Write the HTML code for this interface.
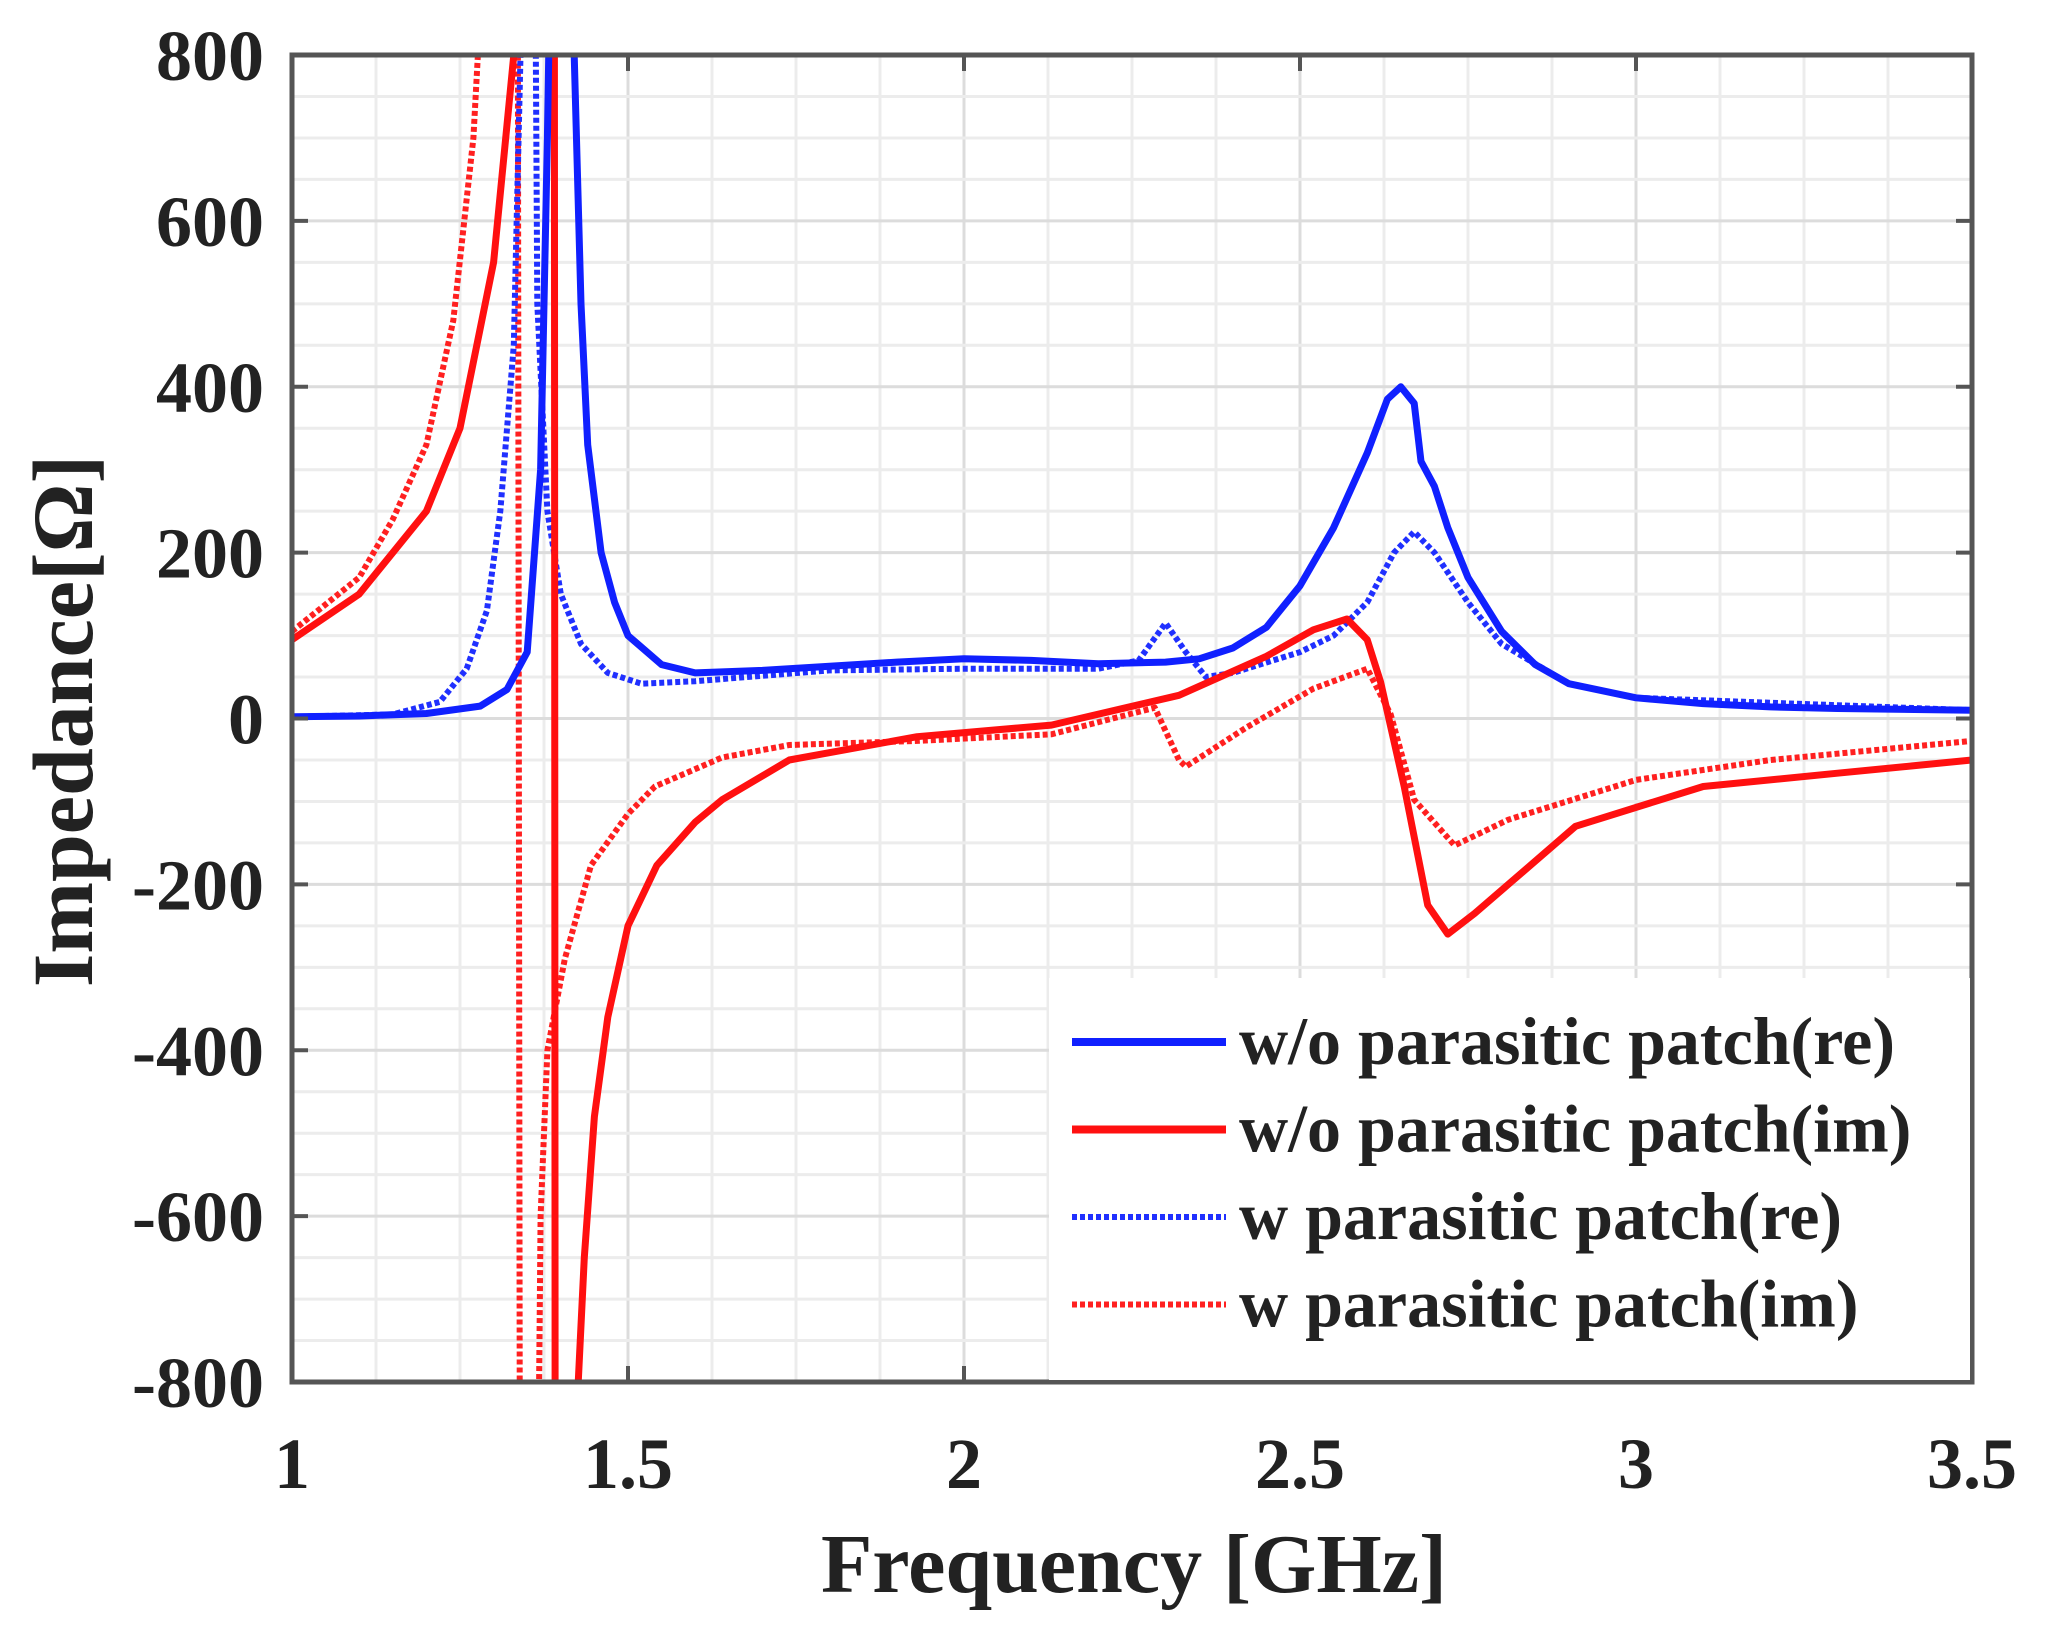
<!DOCTYPE html>
<html><head><meta charset="utf-8"><style>
html,body{margin:0;padding:0;background:#fff;overflow:hidden;width:2056px;height:1636px;}
svg{display:block;font-family:"Liberation Serif",serif;font-weight:bold;}
</style></head><body>
<svg id="chart" width="2056" height="1636" viewBox="0 0 2056 1636" xmlns="http://www.w3.org/2000/svg">
<defs><clipPath id="clip"><rect x="292" y="55" width="1680" height="1327"/></clipPath></defs>
<g id="grid"></g>
<g id="series" clip-path="url(#clip)"></g>
<g id="axes"></g>
<text x="1134" y="1592" font-size="84" text-anchor="middle" fill="#222">Frequency [GHz]</text>
<text transform="translate(92,721) rotate(-90)" font-size="86" text-anchor="middle" fill="#222">Impedance[Ω]</text>
<g id="legend"></g>
</svg>
<script>
const xTicks=[1,1.5,2,2.5,3,3.5];
const xTickLabels=["1","1.5","2","2.5","3","3.5"];
const yTicks=[-800,-600,-400,-200,0,200,400,600,800];
const yTickLabels=["-800","-600","-400","-200","0","200","400","600","800"];
const seriesNames=["w/o parasitic patch(re)","w/o parasitic patch(im)","w parasitic patch(re)","w parasitic patch(im)"];
const fBlueSolid=[1.0,1.1,1.2,1.28,1.32,1.35,1.37,1.38,1.39,1.41,1.42,1.43,1.44,1.46,1.48,1.5,1.55,1.6,1.7,1.8,1.9,2.0,2.1,2.2,2.3,2.35,2.4,2.45,2.5,2.55,2.6,2.63,2.65,2.67,2.68,2.7,2.72,2.75,2.8,2.85,2.9,3.0,3.1,3.2,3.3,3.5];
const zBlueSolid=[2,3,6,15,35,80,300,700,1200,1200,800,500,330,200,140,100,65,55,58,63,68,72,70,66,68,72,85,110,160,230,320,385,400,380,310,280,230,170,105,65,42,25,18,14,12,10];
const fRedSolid=[1.0,1.1,1.2,1.25,1.3,1.33,1.36,1.39,1.392,1.41,1.42,1.435,1.45,1.47,1.5,1.543,1.6,1.64,1.74,1.93,2.13,2.32,2.45,2.52,2.57,2.6,2.62,2.655,2.69,2.72,2.76,2.81,2.91,3.1,3.3,3.5];
const zRedSolid=[95,150,250,350,550,800,1500,1500,-1500,-1500,-900,-650,-480,-360,-250,-177,-125,-98,-50,-22,-8,28,75,107,120,95,44,-82,-225,-260,-235,-200,-130,-82,-66,-50];
const fBlueDot=[1.0,1.15,1.22,1.26,1.29,1.31,1.33,1.34,1.35,1.36,1.365,1.38,1.4,1.43,1.47,1.52,1.6,1.8,2.0,2.2,2.26,2.3,2.33,2.36,2.4,2.5,2.55,2.6,2.64,2.67,2.7,2.75,2.8,2.9,3.0,3.5];
const zBlueDot=[2,5,20,60,130,250,450,800,1200,1200,500,250,150,90,55,42,45,58,60,60,70,115,80,50,55,80,100,140,200,225,200,140,90,42,25,10];
const fRedDot=[1.0,1.1,1.15,1.2,1.24,1.27,1.29,1.31,1.335,1.34,1.36,1.37,1.38,1.406,1.445,1.5,1.54,1.64,1.74,1.93,2.13,2.245,2.284,2.32,2.33,2.42,2.52,2.6,2.635,2.67,2.73,2.81,3.0,3.2,3.5];
const zRedDot=[105,170,240,330,480,700,1000,1500,1500,-1500,-1500,-600,-400,-290,-177,-115,-82,-47,-32,-27,-19,5,13,-50,-58,-11,36,60,5,-98,-153,-122,-74,-50,-27];

const L=292,R=1972,T=55,B=1382;
const X=f=>L+(f-1)/2.5*(R-L);
const Y=z=>B-(z+800)/1600*(B-T);
const NS="http://www.w3.org/2000/svg";
function mk(tag,attrs,parent){const e=document.createElementNS(NS,tag);for(const k in attrs)e.setAttribute(k,attrs[k]);parent.appendChild(e);return e;}
const grid=document.getElementById('grid'),axes=document.getElementById('axes'),ser=document.getElementById('series'),leg=document.getElementById('legend');
for(let i=0;i<=20;i++){const x=X(1+i*0.125);const l=mk('line',{x1:x,x2:x,y1:T,y2:B,stroke:i%4==0?'#dcdcdc':'#ececec','stroke-width':3},grid);

}
for(let i=0;i<=32;i++){const y=Y(-800+i*50);const l=mk('line',{x1:L,x2:R,y1:y,y2:y,stroke:i%4==0?'#dcdcdc':'#ececec','stroke-width':3},grid);

}
function path(fs,zs,color,dot){let d='';fs.forEach((f,i)=>{d+=(i?'L':'M')+X(f).toFixed(1)+','+Y(zs[i]).toFixed(1);});
const p=mk('path',{d:d,fill:'none',stroke:color,'stroke-width':dot?6:7,'stroke-linejoin':'round'},ser);
if(dot)p.setAttribute('stroke-dasharray','5 3');return p;}
let p;
p=path(fRedDot,zRedDot,'#ff2020',true);


p=path(fBlueDot,zBlueDot,'#2030ff',true);


p=path(fRedSolid,zRedSolid,'#ff1010',false);


p=path(fBlueSolid,zBlueSolid,'#1020ff',false);


const lb=mk('rect',{x:1049,y:978,width:921,height:402,fill:'#fff'},leg);


const colors=['#1020ff','#ff1010','#2030ff','#ff2020'];
seriesNames.forEach((n,i)=>{const y=1042+i*87.5;
const ln=mk('line',{x1:1072,x2:1226,y1:y,y2:y,stroke:colors[i],'stroke-width':i<2?8:6},leg);
if(i>=2)ln.setAttribute('stroke-dasharray','5 3');


const t=mk('text',{x:1239,y:y+22,'font-size':68,fill:'#222'},leg);t.textContent=n;

});
const fr=mk('rect',{x:L,y:T,width:R-L,height:B-T,fill:'none',stroke:'#555','stroke-width':5},axes);


xTicks.forEach((v,i)=>{const x=X(v);
mk('line',{x1:x,x2:x,y1:B,y2:B-16,stroke:'#555','stroke-width':4},axes);
mk('line',{x1:x,x2:x,y1:T,y2:T+16,stroke:'#555','stroke-width':4},axes);
const t=mk('text',{x:x,y:1488,'font-size':72,'text-anchor':'middle',fill:'#222'},axes);t.textContent=xTickLabels[i];

});
yTicks.forEach((v,i)=>{const y=Y(v);
mk('line',{x1:L,x2:L+16,y1:y,y2:y,stroke:'#555','stroke-width':4},axes);
mk('line',{x1:R,x2:R-16,y1:y,y2:y,stroke:'#555','stroke-width':4},axes);
const t=mk('text',{x:264,y:y+25,'font-size':72,'text-anchor':'end',fill:'#222'},axes);t.textContent=yTickLabels[i];

});
</script>
</body></html>
